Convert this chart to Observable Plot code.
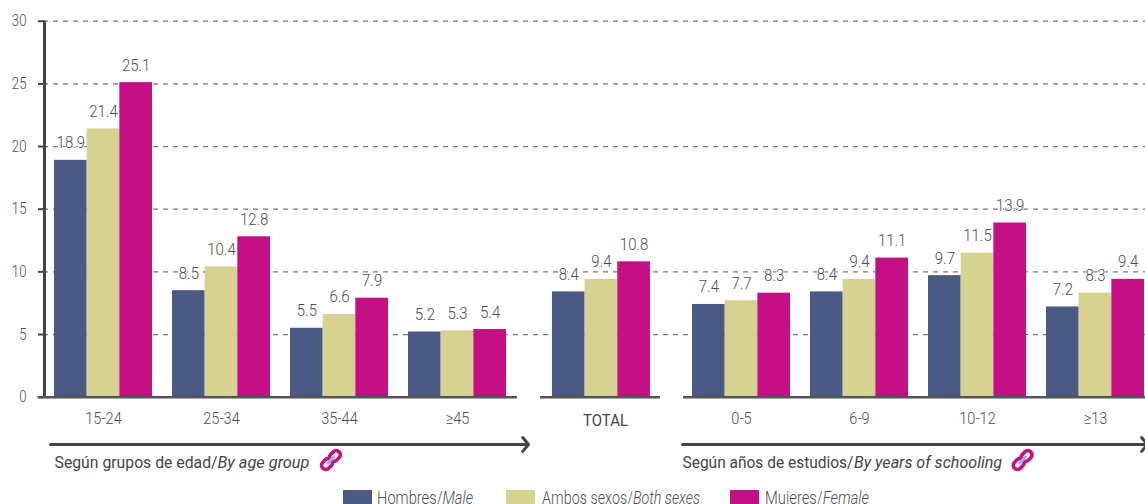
<!DOCTYPE html>
<html>
<head>
<meta charset="utf-8">
<script src="https://cdn.jsdelivr.net/npm/d3@7"></script>
<script src="https://cdn.jsdelivr.net/npm/@observablehq/plot@0.6"></script>
<style>
  html, body { margin: 0; padding: 0; background: #fff; overflow: hidden; }
  #wrap { position: relative; width: 1145px; height: 504px; overflow: hidden; font-family: Roboto, sans-serif; font-weight: 300; }
  #wrap svg { display: block; font-family: Roboto, sans-serif; font-weight: 300; }
  .lg { position: absolute; top: 490px; line-height: 16px; font-size: 17.5px; color: #4d4d4d; white-space: nowrap; transform-origin: left center; }
  .sw { position: absolute; top: 490px; height: 14px; }
</style>
</head>
<body>
<div id="wrap"></div>
<script>
const groups = ["15-24", "25-34", "35-44", "≥45", "TOTAL", "0-5", "6-9", "10-12", "≥13"];
const groupSlots = [0, 1, 2, 3, 4.22, 5.407, 6.407, 7.407, 8.407];
const hombres = [18.9, 8.5, 5.5, 5.2, 8.4, 7.4, 8.4, 9.7, 7.2];
const ambos   = [21.4, 10.4, 6.6, 5.3, 9.4, 7.7, 9.4, 11.5, 8.3];
const mujeres = [25.1, 12.8, 7.9, 5.4, 10.8, 8.3, 11.1, 13.9, 9.4];
const seriesColors = ["#4a5a85", "#d6d292", "#c41084"];
const yTicks = [0, 5, 10, 15, 20, 25, 30];
const gridTicks = [5, 10, 15, 20, 25, 30];
const baselines = [[-0.555, 3.508], [3.703, 4.72], [4.915, 8.9]];
const arrows = [[-0.449, 3.602], [4.907, 8.847]];
const ink = "#4d4d4d";

const barW = 0.2768;
const table = [];
groups.forEach((g, i) => {
  [hombres, ambos, mujeres].forEach((vals, s) => {
    table.push({ g, value: vals[i], x1: groupSlots[i] + (s - 1.5) * barW, x2: groupSlots[i] + (s - 0.5) * barW, xc: groupSlots[i] + (s - 1) * barW, color: seriesColors[s] });
  });
});
const labelOf = new Map(groupSlots.map((s, i) => [s, groups[i]]));

const linkIcon = (index, scales) => {
  const g = d3.create("svg:g");
  [[1.932, -5.05], [7.794, -5.05]].forEach(([sx, sy]) => {
    const t = g.append("g").attr("transform", `translate(${scales.x(sx)},${scales.y(sy)}) rotate(-45)`);
    [-5.5, 5.5].forEach(dx => {
      t.append("rect").attr("x", dx - 6).attr("y", -4.2).attr("width", 12).attr("height", 8.4).attr("rx", 4.2)
        .attr("fill", "none").attr("stroke", "#c41084").attr("stroke-width", 3.6);
    });
    t.append("line").attr("x1", -5.5).attr("x2", 5.5).attr("stroke", "#9fb2dd").attr("stroke-width", 3);
  });
  return g.node();
};

const capText = (txt, x, italic) => Plot.text([txt], { x: () => x, y: () => -5.2, text: d => d, textAnchor: "start", fontSize: 16.5, fontStyle: italic ? "italic" : "normal", fontWeight: 400, fill: "#444" });

const chart = Plot.plot({
  width: 1145,
  height: 490,
  marginLeft: 44,
  marginRight: 0,
  marginTop: 20,
  marginBottom: 93,
  style: { background: "transparent", fontSize: "16px", overflow: "hidden" },
  x: { domain: [0, 8.407], range: [103, 1095] },
  y: { domain: [0, 30], range: [396.7, 20.7] },
  marks: [
    Plot.gridY(gridTicks, { stroke: "#777", strokeOpacity: 1, strokeWidth: 1.2, strokeDasharray: "5,5", strokeDashoffset: 1 }),
    Plot.rect(table, { x1: "x1", x2: "x2", y1: 0, y2: "value", fill: "color", inset: 0 }),
    Plot.axisY({ ticks: yTicks, tickSize: 6, tickPadding: 12, fontSize: 16.5, color: ink, stroke: "#444", strokeWidth: 2, tickFormat: d => d, label: null }),
    Plot.ruleX([-0.5], { x: d => d, y1: () => 0, y2: () => 30, stroke: "#444", strokeWidth: 3 }),
    Plot.axisX({ ticks: groupSlots.filter(s => labelOf.get(s) !== "TOTAL"), tickFormat: d => labelOf.get(d), tickSize: 0, tickPadding: 15, fontSize: 16.5, color: ink, label: null, anchor: "bottom" }),
    Plot.text(["TOTAL"], { x: () => 4.254, y: () => -1.85, text: d => d, fontSize: 17, fontWeight: 400, fill: "#444", stroke: "none" }),
    Plot.ruleY(baselines, { y: () => 0, x1: d => d[0], x2: d => d[1], stroke: "#555", strokeWidth: 2.4 }),
    Plot.text(table, { x: "xc", y: "value", text: d => d.value.toFixed(1), lineAnchor: "bottom", dy: -12, fontSize: 17, fill: ink, stroke: "white", strokeWidth: 2, paintOrder: "stroke" }),
    Plot.arrow(arrows, { x1: d => d[0], x2: d => d[1], y1: () => -3.77, y2: () => -3.77, stroke: "#444", strokeWidth: 3, headLength: 4.5, headAngle: 100, bend: 0 }),
    capText("Según grupos de edad/", -0.415, false),
    capText("By age group", 0.966, true),
    capText("Según años de estudios/", 4.907, false),
    capText("By years of schooling", 6.361, true),
    linkIcon
  ]
});

const wrap = document.getElementById("wrap");
wrap.appendChild(chart);

// Only regular-width families are installed, so glyphs are condensed to the reference's widths.
const fixedWidths = { "Según grupos de edad/": 163, "By age group": 92, "Según años de estudios/": 171, "By years of schooling": 148, "TOTAL": 45 };
d3.select(chart).selectAll("text").each(function () {
  const t = this.textContent, tspans = this.querySelectorAll("tspan");
  const el = tspans.length === 1 ? tspans[0] : this;
  const len = this.getComputedTextLength();
  const isY = this.parentNode.closest('[aria-label="y-axis tick label"]');
  const target = fixedWidths[t] ?? len * (isY ? 0.8 : 0.88);
  el.setAttribute("textLength", target);
  el.setAttribute("lengthAdjust", "spacingAndGlyphs");
});

const legend = [
  ["Hombres/", "Male", 343, 29, 377, 96, seriesColors[0]],
  ["Ambos sexos/", "Both sexes", 506, 29, 542, 158, seriesColors[1]],
  ["Mujeres/", "Female", 730, 29, 765, 104, seriesColors[2]]
];
legend.forEach(([es, en, sx, sw, tx, tw, c]) => {
  const s = document.createElement("div");
  s.className = "sw";
  s.style.cssText = `left:${sx}px;width:${sw}px;background:${c}`;
  wrap.appendChild(s);
  const t = document.createElement("div");
  t.className = "lg";
  t.style.left = tx + "px";
  t.append(es);
  const i = document.createElement("i");
  i.textContent = en;
  t.appendChild(i);
  wrap.appendChild(t);
  t.style.transform = `scaleX(${tw / t.getBoundingClientRect().width})`;
});
</script>
</body>
</html>
